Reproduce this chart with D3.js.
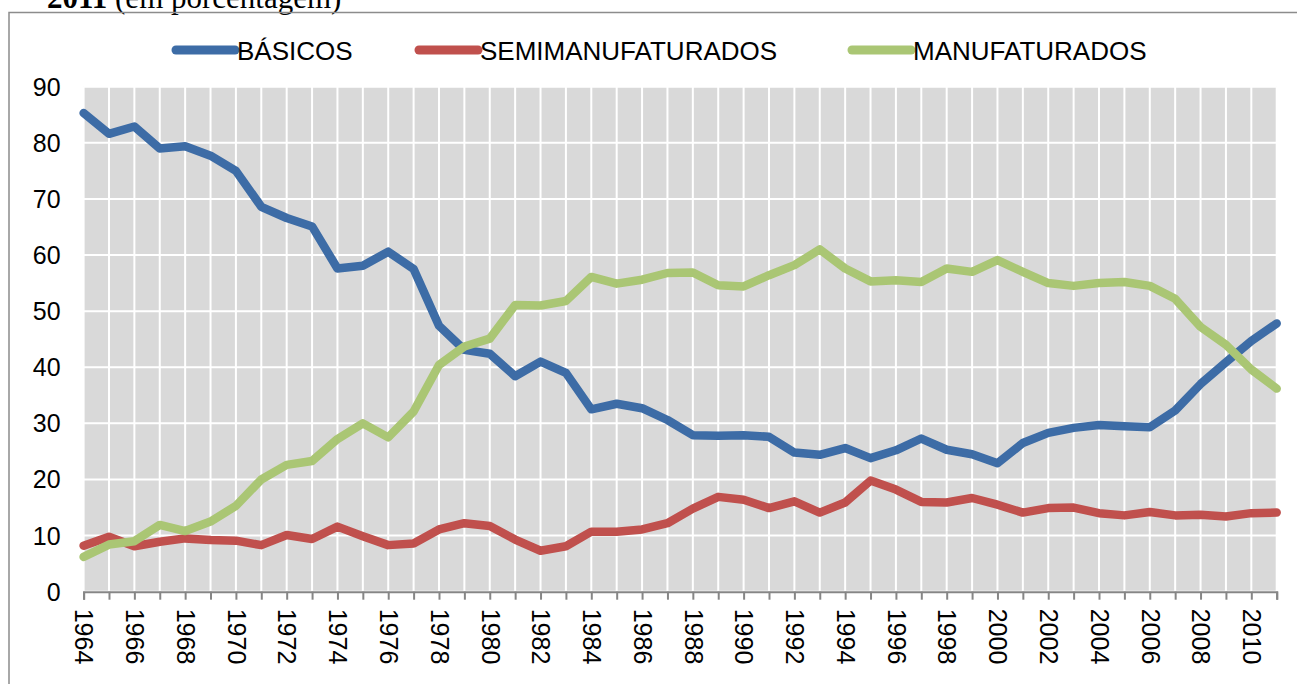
<!DOCTYPE html>
<html>
<head>
<meta charset="utf-8">
<script src="https://cdn.jsdelivr.net/npm/d3@7"></script>
<style>
  body { margin: 0; background: #fff; }
  svg { display: block; }
  .eixo text { font-family: "Liberation Sans", Arial, sans-serif; font-size: 25px; fill: #000; }
  .legenda text { font-family: "Liberation Sans", Arial, sans-serif; font-size: 26px; fill: #000; }
</style>
</head>
<body>
<svg id="grafico" width="1297" height="684"></svg>
<script>
const anos = d3.range(1964, 2012);
const basicos = [85.3, 81.6, 82.9, 79.0, 79.4, 77.7, 75.0, 68.6, 66.6, 65.1,
  57.6, 58.1, 60.6, 57.5, 47.4, 43.1, 42.4, 38.4, 41.0, 39.0,
  32.5, 33.5, 32.7, 30.6, 27.9, 27.8, 27.9, 27.6, 24.8, 24.4,
  25.6, 23.8, 25.2, 27.3, 25.3, 24.5, 22.9, 26.5, 28.3, 29.2,
  29.7, 29.5, 29.3, 32.3, 37.0, 40.9, 44.7, 47.8];
const semimanufaturados = [8.2, 9.8, 8.1, 8.9, 9.5, 9.2, 9.1, 8.3, 10.1, 9.4,
  11.6, 9.9, 8.3, 8.6, 11.1, 12.2, 11.7, 9.3, 7.3, 8.1,
  10.7, 10.7, 11.1, 12.2, 14.8, 16.9, 16.4, 14.9, 16.1, 14.1,
  15.9, 19.8, 18.2, 16.0, 15.9, 16.7, 15.5, 14.1, 14.9, 15.0,
  14.0, 13.6, 14.2, 13.6, 13.7, 13.4, 14.0, 14.1];
const manufaturados = [6.2, 8.4, 9.0, 11.9, 10.8, 12.5, 15.3, 20.0, 22.6, 23.3,
  27.2, 30.0, 27.5, 32.1, 40.4, 43.7, 45.1, 51.1, 51.0, 51.8,
  56.1, 54.9, 55.6, 56.8, 56.9, 54.6, 54.4, 56.4, 58.2, 61.0,
  57.6, 55.3, 55.5, 55.2, 57.6, 57.0, 59.1, 57.0, 55.0, 54.5,
  55.0, 55.2, 54.5, 52.2, 47.2, 44.0, 39.6, 36.2];
const ticks_y = [0, 10, 20, 30, 40, 50, 60, 70, 80, 90];
const series = [
  { nome: "BÁSICOS", valores: basicos, cor: "#3d6ca6" },
  { nome: "SEMIMANUFATURADOS", valores: semimanufaturados, cor: "#c0504d" },
  { nome: "MANUFATURADOS", valores: manufaturados, cor: "#aac674" }
];

const svg = d3.select("#grafico");
const esq = 83.6, dir = 1276.7, topo = 86.7, base = 591.7;

const x = d3.scalePoint().domain(anos).range([esq, dir]);
const y = d3.scaleLinear().domain([0, 90]).range([base, topo]);

// titulo cortado no topo
const titulo = svg.append("text")
  .attr("x", 47).attr("y", 8)
  .style("font-family", "'Liberation Serif', 'Times New Roman', serif")
  .style("font-size", "31px");
titulo.append("tspan").style("font-weight", "bold").text("2011");
titulo.append("tspan").text(" (em porcentagem)");

// moldura
svg.append("rect")
  .attr("x", 9).attr("y", 12.5)
  .attr("width", 1400).attr("height", 800)
  .attr("fill", "none").attr("stroke", "#8c8c8c").attr("stroke-width", 1.5);

// area do grafico
svg.append("rect")
  .attr("x", esq).attr("y", topo)
  .attr("width", dir - esq).attr("height", base - topo)
  .attr("fill", "#d9d9d9");

svg.append("g")
  .selectAll("line")
  .data(anos)
  .enter()
  .append("line")
  .attr("x1", d => x(d)).attr("x2", d => x(d))
  .attr("y1", topo).attr("y2", base)
  .attr("stroke", "#fff").attr("stroke-width", 2);

svg.append("g")
  .selectAll("line")
  .data(ticks_y)
  .enter()
  .append("line")
  .attr("x1", esq).attr("x2", dir)
  .attr("y1", d => y(d)).attr("y2", d => y(d))
  .attr("stroke", "#fff").attr("stroke-width", 2);

// eixo y (so rotulos)
const eixo_y = svg.append("g")
  .attr("class", "eixo")
  .attr("transform", `translate(${esq},0)`)
  .call(d3.axisLeft(y).tickValues(ticks_y).tickSize(0).tickPadding(23));
eixo_y.select(".domain").remove();
eixo_y.selectAll("text").attr("dy", "0.34em").style("font-size", null);

// eixo x
const eixo_x = svg.append("g")
  .attr("class", "eixo")
  .attr("transform", `translate(0,${base})`)
  .call(d3.axisBottom(x).tickSize(8).tickFormat(d => (d % 2 === 0 ? d : "")));
eixo_x.select(".domain").attr("stroke", "#868686").attr("stroke-width", 2);
eixo_x.selectAll(".tick line").attr("stroke", "#868686").attr("stroke-width", 2);
eixo_x.selectAll("text")
  .attr("transform", "rotate(90)")
  .attr("x", 17).attr("y", 0).attr("dy", "0.35em")
  .attr("text-anchor", "start")
  .style("font-size", null);

// linhas
const linha = d3.line()
  .x((d, i) => x(anos[i]))
  .y(d => y(d));

svg.append("g")
  .selectAll("path")
  .data(series)
  .enter()
  .append("path")
  .attr("d", d => linha(d.valores))
  .attr("fill", "none")
  .attr("stroke", d => d.cor)
  .attr("stroke-width", 8.5)
  .attr("stroke-linejoin", "round")
  .attr("stroke-linecap", "round");

// legenda
const pos_legenda = [176, 419, 852];
const legenda = svg.append("g").attr("class", "legenda")
  .selectAll("g")
  .data(series)
  .enter()
  .append("g")
  .attr("transform", (d, i) => `translate(${pos_legenda[i]},50)`);
legenda.append("line")
  .attr("x1", 0).attr("x2", 59)
  .attr("stroke", d => d.cor)
  .attr("stroke-width", 9)
  .attr("stroke-linecap", "round");
legenda.append("text")
  .attr("x", 61).attr("y", 9.5)
  .text(d => d.nome);
</script>
</body>
</html>
